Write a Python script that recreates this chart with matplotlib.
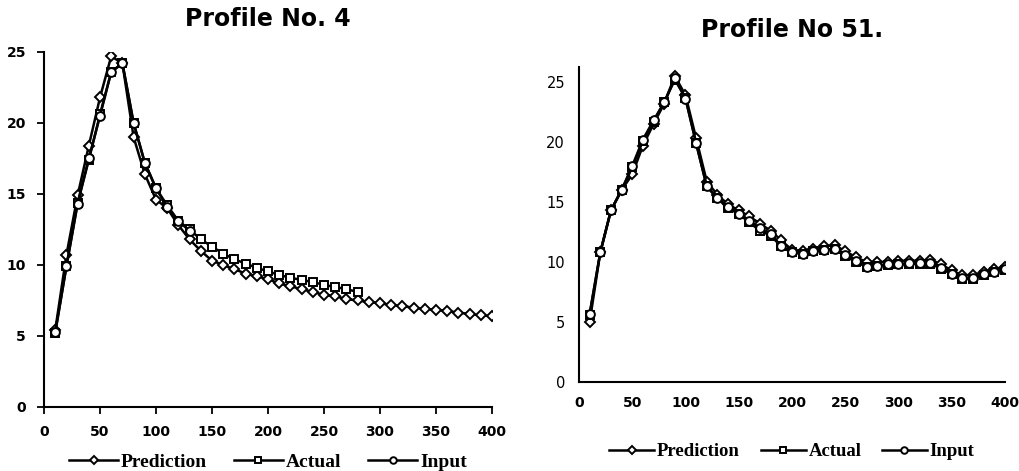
import matplotlib.pyplot as plt
import numpy as np

# ---- Profile No. 4 ----
x4 = list(range(10, 410, 10))
pred4 = [5.4, 10.7, 14.9, 18.4, 21.8, 24.7, 24.2, 19.0, 16.4, 14.6,
         14.0, 12.8, 11.8, 11.0, 10.3, 10.0, 9.7, 9.4, 9.2, 9.0,
         8.7, 8.5, 8.3, 8.1, 7.9, 7.8, 7.6, 7.5, 7.4, 7.3,
         7.2, 7.1, 7.0, 6.9, 6.85, 6.75, 6.65, 6.55, 6.45, 6.4]
x4_act = list(range(10, 290, 10))
act4 = [5.2, 9.9, 14.4, 17.4, 20.6, 23.6, 24.2, 20.0, 17.2, 15.4,
        14.2, 13.1, 12.5, 11.8, 11.3, 10.8, 10.4, 10.1, 9.8, 9.55,
        9.3, 9.1, 8.95, 8.8, 8.6, 8.45, 8.3, 8.1]
x4_inp = list(range(10, 140, 10))
inp4 = [5.3, 9.9, 14.3, 17.5, 20.5, 23.6, 24.2, 20.0, 17.2, 15.4,
        14.1, 13.1, 12.4]

# ---- Profile No 51. ----
x51 = list(range(10, 410, 10))
pred51 = [5.0, 10.8, 14.3, 16.0, 17.3, 19.7, 21.5, 23.2, 25.5, 23.9,
          20.3, 16.7, 15.6, 14.8, 14.3, 13.8, 13.2, 12.6, 11.8, 11.0,
          10.9, 11.1, 11.3, 11.4, 10.9, 10.4, 10.0, 10.0, 10.0, 10.1,
          10.1, 10.1, 10.2, 9.8, 9.3, 8.9, 8.9, 9.2, 9.4, 9.6]
act51 = [5.6, 10.8, 14.3, 16.0, 17.9, 20.1, 21.7, 23.3, 25.2, 23.7,
         19.9, 16.3, 15.3, 14.5, 14.0, 13.3, 12.6, 12.2, 11.3, 10.8,
         10.7, 10.9, 11.0, 11.1, 10.5, 10.0, 9.6, 9.7, 9.75, 9.8,
         9.85, 9.85, 9.85, 9.45, 9.0, 8.6, 8.6, 8.95, 9.15, 9.35]
inp51 = [5.7, 10.8, 14.3, 16.0, 18.0, 20.2, 21.8, 23.3, 25.3, 23.6,
         19.9, 16.3, 15.3, 14.6, 14.0, 13.4, 12.8, 12.3, 11.3, 10.8,
         10.7, 10.9, 11.0, 11.1, 10.6, 10.1, 9.6, 9.7, 9.8, 9.8,
         9.9, 9.9, 9.9, 9.5, 9.0, 8.65, 8.65, 9.0, 9.2, 9.4]

xticks = [0, 50, 100, 150, 200, 250, 300, 350, 400]
yticks = [0, 5, 10, 15, 20, 25]

fig = plt.figure(figsize=(10.19, 4.71), dpi=100)

style = dict(color="k", lw=1.8, markerfacecolor="white", markeredgecolor="k", markeredgewidth=1.4)
tick_font = {"family": "DejaVu Sans", "weight": "bold", "size": 10}


def draw(ax, xp, yp, xa, ya, xi, yi):
    ax.plot(xp, yp, marker="D", markersize=5, label="Prediction", **style)
    ax.plot(xa, ya, marker="s", markersize=5.5, label="Actual", **style)
    ax.plot(xi, yi, marker="o", markersize=6.3, label="Input", **style)
    ax.set_xlim(0, 400)
    ax.set_xticks(xticks)
    ax.set_yticks(yticks)
    for s in ["top", "right"]:
        ax.spines[s].set_visible(False)
    for s in ["left", "bottom"]:
        ax.spines[s].set_linewidth(1.5)


# left
ax1 = fig.add_axes([0.0432, 0.1359, 0.4396, 0.7537])
draw(ax1, x4, pred4, x4_act, act4, x4_inp, inp4)
ax1.set_ylim(0, 25)
ax1.tick_params(direction="out", length=5, width=1.3, pad=8)
ax1.set_xticklabels(xticks, fontdict=tick_font)
ax1.set_yticklabels(yticks, fontdict=tick_font)
ax1.set_title("Profile No. 4", fontsize=17, fontweight="bold", y=1.05)
ax1.legend(loc="center", bbox_to_anchor=(0.5, -0.155), ncol=3, frameon=False,
           prop={"family": "Liberation Serif", "weight": "bold", "size": 14},
           markerscale=0.75, handlelength=2.5, columnspacing=1.4,
           handletextpad=0.15)

# right
ax2 = fig.add_axes([0.5682, 0.189, 0.418, 0.6687])
draw(ax2, x51, pred51, x51, act51, x51, inp51)
ax2.set_ylim(0, 26.25)
ax2.tick_params(length=0, pad=10)
ax2.set_xticklabels(xticks, fontdict=tick_font)
ax2.set_yticklabels(yticks, fontdict={"family": "DejaVu Sans", "size": 10.5})
ax2.set_title("Profile No 51.", fontsize=17, fontweight="bold", y=1.07)
ax2.legend(loc="center", bbox_to_anchor=(0.5, -0.222), ncol=3, frameon=False,
           prop={"family": "Liberation Serif", "weight": "bold", "size": 13.5},
           markerscale=0.75, handlelength=2.4, columnspacing=1.1,
           handletextpad=0.15)

fig.savefig("out.png", dpi=100)
